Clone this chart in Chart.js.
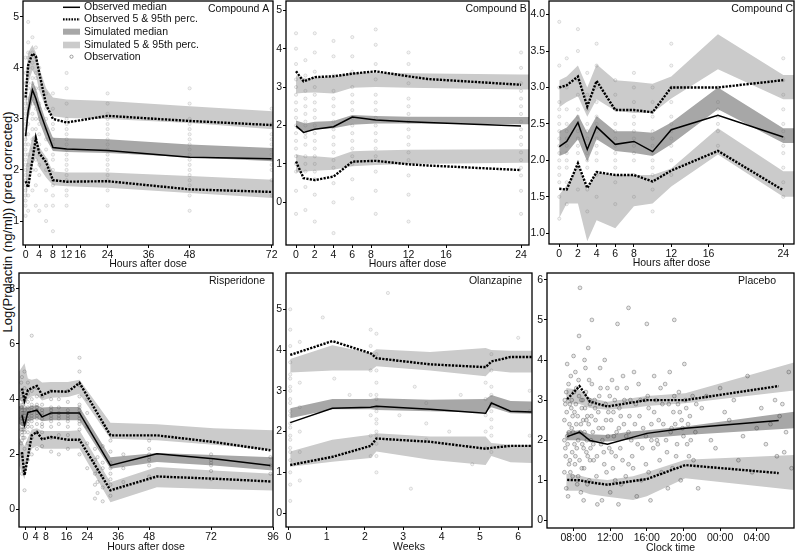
<!DOCTYPE html>
<html>
<head>
<meta charset="utf-8">
<script src="https://cdn.jsdelivr.net/npm/chart.js@4.4.0/dist/chart.umd.min.js"></script>
<style>
html, body { margin: 0; padding: 0; width: 795px; height: 552px; overflow: hidden; background: #fff; }
canvas { position: absolute; }
#ytitle {
  position: absolute; left: 7px; top: 222px;
  transform: translate(-50%, -50%) rotate(-90deg);
  font: 13px "Liberation Sans", Arial, sans-serif; white-space: nowrap; color: #111;
}
</style>
</head>
<body>
<div id="ytitle">Log(Prolactin (ng/ml)) (pred corrected)</div>
<script>
// ---- Compound A (hours) ----
const A_t   = [0, 0.75, 2, 3, 4, 6, 8, 12, 24, 48, 72];
const A_med = [2.66, 3.15, 3.57, 3.4, 3.18, 2.8, 2.44, 2.41, 2.38, 2.25, 2.22];
const A_hi  = [3.42, 4.05, 4.28, 4.23, 3.9, 3.28, 3.0, 2.93, 3.06, 2.96, 2.88];
const A_lo  = [1.78, 1.66, 2.2, 2.62, 2.33, 2.15, 1.8, 1.77, 1.78, 1.62, 1.57];
const A_st   = [0, 0.75, 2, 3, 4, 6, 8, 12, 24, 48, 72.4];
const A_upHi = [3.75, 4.3, 4.45, 4.3, 4.0, 3.6, 3.42, 3.38, 3.35, 3.25, 3.15];
const A_upLo = [3.0, 3.7, 3.95, 3.85, 3.55, 3.2, 3.05, 3.02, 3.0, 2.92, 2.8];
const A_mdHi = [2.9, 3.4, 3.75, 3.6, 3.35, 2.95, 2.63, 2.62, 2.6, 2.5, 2.43];
const A_mdLo = [2.45, 3.0, 3.35, 3.2, 2.95, 2.6, 2.37, 2.35, 2.33, 2.25, 2.17];
const A_dnHi = [2.0, 2.3, 2.65, 2.7, 2.45, 2.25, 1.97, 1.95, 1.95, 1.88, 1.81];
const A_dnLo = [1.4, 1.75, 2.1, 2.25, 2.05, 1.85, 1.7, 1.68, 1.65, 1.55, 1.45];
const A_obs = [
  [0, [1.1, 1.3, 1.4, 1.5, 1.6, 1.7, 1.8, 1.9, 2.0, 2.1, 2.2, 2.3, 2.4, 2.5, 2.6, 2.7, 2.8, 2.9, 3.0, 3.1, 3.2, 3.3, 3.4, 3.5, 3.7, 3.9, 4.2]],
  [0.75, [1.2, 1.5, 1.7, 1.8, 2.1, 2.3, 2.5, 2.7, 2.9, 3.1, 3.3, 3.4, 3.6, 3.7, 3.9, 4.0, 4.2, 4.3, 4.5, 4.9]],
  [2, [1.6, 2.0, 2.2, 2.4, 2.6, 2.8, 3.0, 3.1, 3.3, 3.4, 3.5, 3.7, 3.8, 4.0, 4.1, 4.3, 4.6]],
  [3, [1.3, 1.7, 2.0, 2.2, 2.4, 2.6, 2.8, 3.0, 3.2, 3.3, 3.5, 3.6, 3.8, 3.9, 4.2, 4.4]],
  [4, [1.2, 1.9, 2.1, 2.3, 2.5, 2.7, 2.9, 3.0, 3.2, 3.3, 3.6, 4.0]],
  [6, [1.0, 1.3, 1.6, 2.0, 2.2, 2.4, 2.6, 2.8, 3.0, 3.2, 3.5]],
  [8, [0.8, 1.3, 1.5, 1.7, 1.8, 2.0, 2.2, 2.3, 2.5, 2.6, 2.8, 2.9, 3.2, 3.5]],
  [12, [1.3, 1.5, 1.6, 1.8, 1.9, 2.0, 2.1, 2.2, 2.3, 2.4, 2.5, 2.6, 2.7, 2.8, 2.9, 3.0, 3.3, 3.6, 3.9]],
  [24, [1.3, 1.6, 1.8, 1.9, 2.0, 2.1, 2.2, 2.3, 2.4, 2.5, 2.6, 2.7, 2.8, 2.9, 3.0, 3.1, 3.3, 3.5]],
  [48, [1.2, 1.5, 1.7, 1.8, 1.9, 2.0, 2.1, 2.2, 2.3, 2.4, 2.5, 2.6, 2.7, 2.8, 2.9, 3.0, 3.3, 3.6]],
  [72, [1.5, 1.8, 2.0, 2.1, 2.2, 2.3, 2.4, 2.5, 2.6, 2.7, 2.9, 3.2]]
];

// ---- Compound B (hours) ----
const B_t   = [0, 0.8, 2, 4, 6, 8.5, 12, 14, 24];
const B_med = [1.99, 1.82, 1.9, 1.97, 2.22, 2.14, 2.1, 2.08, 1.99];
const B_hi  = [3.41, 3.15, 3.26, 3.28, 3.35, 3.41, 3.28, 3.21, 3.06];
const B_lo  = [1.06, 0.63, 0.58, 0.67, 1.06, 1.08, 0.99, 0.96, 0.84];
const B_st   = [0, 1, 2, 4, 6, 8.5, 12, 24, 24.9];
const B_upHi = [3.3, 3.22, 3.25, 3.26, 3.37, 3.38, 3.36, 3.33, 3.33];
const B_upLo = [2.83, 2.85, 2.86, 2.83, 2.98, 3.0, 2.98, 2.94, 2.94];
const B_mdHi = [2.13, 2.05, 2.1, 2.12, 2.27, 2.25, 2.23, 2.22, 2.22];
const B_mdLo = [1.92, 1.85, 1.9, 1.93, 2.02, 2.05, 2.05, 2.03, 2.03];
const B_dnHi = [1.25, 1.2, 1.2, 1.16, 1.33, 1.35, 1.37, 1.38, 1.38];
const B_dnLo = [0.78, 0.8, 0.82, 0.85, 0.94, 0.97, 1.0, 1.03, 1.03];
const B_obs = [
  [0, [-0.3, 0.3, 0.8, 1.0, 1.2, 1.4, 1.6, 1.8, 2.0, 2.2, 2.4, 2.6, 2.8, 3.0, 3.2, 3.6, 4.0, 4.4]],
  [1, [-0.2, 0.4, 0.8, 1.0, 1.2, 1.5, 1.7, 1.8, 2.0, 2.1, 2.3, 2.5, 2.7, 2.9, 3.3, 3.7]],
  [2, [-0.5, 0.2, 0.6, 0.8, 1.0, 1.2, 1.4, 1.6, 1.8, 2.0, 2.2, 2.4, 2.6, 2.8, 3.0, 3.4, 3.9, 4.4]],
  [4, [-0.8, 0.0, 0.5, 0.9, 1.1, 1.3, 1.5, 1.7, 1.9, 2.1, 2.3, 2.5, 2.7, 2.9, 3.3, 3.8, 4.2]],
  [6, [0.1, 0.6, 1.0, 1.2, 1.4, 1.6, 1.8, 2.0, 2.2, 2.4, 2.6, 2.8, 3.0, 3.4, 3.8, 4.3]],
  [8.5, [-0.3, 0.3, 0.8, 1.2, 1.4, 1.6, 1.8, 2.0, 2.2, 2.4, 2.6, 2.8, 3.2, 3.6, 4.1, 4.5]],
  [12, [-0.5, 0.2, 0.7, 1.1, 1.3, 1.5, 1.7, 1.9, 2.1, 2.3, 2.5, 2.7, 3.1, 3.6, 3.9]],
  [24, [-0.3, 0.3, 0.7, 0.9, 1.1, 1.3, 1.5, 1.7, 1.9, 2.1, 2.3, 2.5, 2.7, 2.9, 3.1, 3.5, 3.9]]
];

// ---- Compound C (hours) ----
const C_t   = [0, 0.8, 2, 3, 4, 6, 8, 10, 12, 17, 24];
const C_med = [2.19, 2.26, 2.52, 2.15, 2.46, 2.22, 2.26, 2.12, 2.42, 2.62, 2.32];
const C_hi  = [3.0, 3.03, 3.15, 2.74, 3.09, 2.69, 2.69, 2.66, 3.0, 3.0, 3.1];
const C_lo  = [1.61, 1.6, 1.96, 1.62, 1.84, 1.8, 1.8, 1.71, 1.86, 2.13, 1.59];
const C_st   = [0, 0.8, 2, 3, 4, 6, 8, 10, 12, 17, 24, 25.2];
const C_upHi = [3.1, 3.15, 3.3, 3.0, 3.32, 3.1, 3.08, 3.05, 3.15, 3.73, 3.17, 3.17];
const C_upLo = [2.73, 2.8, 2.88, 2.6, 2.84, 2.68, 2.65, 2.65, 2.85, 3.25, 2.84, 2.84];
const C_mdHi = [2.4, 2.45, 2.63, 2.38, 2.61, 2.4, 2.4, 2.38, 2.52, 3.0, 2.44, 2.44];
const C_mdLo = [2.06, 2.1, 2.29, 1.98, 2.29, 2.13, 2.1, 2.06, 2.22, 2.7, 2.24, 2.24];
const C_dnHi = [1.53, 1.66, 1.92, 1.6, 1.83, 1.8, 1.8, 1.8, 1.89, 2.44, 1.85, 1.85];
const C_dnLo = [1.21, 1.41, 1.41, 0.89, 1.18, 1.07, 1.37, 1.41, 1.64, 2.08, 1.5, 1.5];
const C_obs = [
  [0, [1.2, 1.5, 1.7, 1.8, 1.9, 2.0, 2.1, 2.2, 2.3, 2.4, 2.5, 2.6, 2.7, 2.8, 3.0, 3.3, 3.9]],
  [0.8, [1.4, 1.7, 1.9, 2.0, 2.1, 2.2, 2.3, 2.4, 2.5, 2.7, 3.0, 3.4]],
  [2, [1.6, 1.9, 2.1, 2.2, 2.3, 2.4, 2.5, 2.6, 2.7, 2.9, 3.1, 3.5, 3.8]],
  [3, [1.3, 1.6, 1.9, 2.0, 2.1, 2.2, 2.3, 2.4, 2.5, 2.7, 2.9, 3.2]],
  [4, [1.5, 1.8, 2.0, 2.1, 2.2, 2.3, 2.4, 2.5, 2.6, 2.8, 3.0, 3.3, 3.6]],
  [6, [1.4, 1.7, 1.9, 2.0, 2.1, 2.2, 2.3, 2.4, 2.5, 2.7, 2.9, 3.1]],
  [8, [1.5, 1.8, 2.0, 2.1, 2.2, 2.3, 2.4, 2.5, 2.6, 2.8, 3.0, 3.2]],
  [10, [1.3, 1.6, 1.8, 1.9, 2.0, 2.1, 2.2, 2.3, 2.4, 2.6, 2.8, 3.0]],
  [12, [1.8, 2.0, 2.2, 2.3, 2.4, 2.5, 2.6, 2.8, 3.0, 3.3, 3.6]],
  [17, [2.2, 2.4, 2.5, 2.6, 2.7, 2.8, 3.0]],
  [24, [1.5, 1.7, 1.9, 2.1, 2.2, 2.3, 2.4, 2.5, 2.7, 2.9, 3.1, 3.4]]
];

// ---- Risperidone (hours) ----
const R_t   = [-1.3, -0.3, 1, 2.5, 4.5, 6.5, 10, 16.5, 21, 33, 51, 73, 95];
const R_med = [3.42, 3.05, 3.52, 3.55, 3.6, 3.36, 3.5, 3.5, 3.5, 1.6, 2.02, 1.84, 1.6];
const R_hi  = [4.39, 3.96, 4.33, 4.4, 4.48, 4.15, 4.29, 4.27, 4.59, 2.69, 2.69, 2.45, 2.15];
const R_lo  = [2.08, 1.24, 1.9, 2.69, 2.81, 2.55, 2.63, 2.53, 2.53, 0.7, 1.2, 1.12, 1.02];
const R_st   = [-2.4, -0.3, 1, 2.5, 4.5, 6.5, 10, 16.5, 21, 33, 51, 73, 96];
const R_upHi = [5.0, 5.3, 4.75, 4.7, 4.75, 4.6, 4.62, 4.62, 4.7, 3.15, 3.09, 2.95, 2.87];
const R_upLo = [4.0, 3.8, 4.0, 4.1, 4.15, 3.95, 4.05, 4.08, 4.2, 2.57, 2.51, 2.35, 2.15];
const R_mdHi = [3.75, 3.7, 3.72, 3.75, 3.78, 3.7, 3.72, 3.72, 3.72, 1.9, 2.05, 1.98, 1.9];
const R_mdLo = [3.1, 3.0, 3.2, 3.25, 3.3, 3.2, 3.24, 3.24, 3.24, 1.48, 1.72, 1.6, 1.42];
const R_dnHi = [2.6, 2.3, 2.6, 2.9, 2.95, 2.85, 2.85, 2.85, 2.87, 0.99, 1.54, 1.42, 1.3];
const R_dnLo = [1.6, 1.1, 1.8, 2.2, 2.3, 2.2, 2.2, 2.2, 2.21, 0.27, 0.81, 0.75, 0.69];
const R_obs = [
  [-1.6, [2.4, 2.9, 3.3, 3.7, 4.1, 4.6]],
  [-1.3, [1.3, 2.0, 2.5, 2.7, 2.8, 2.9, 3.0, 3.1, 3.2, 3.3, 3.4, 3.5, 3.6, 3.7, 3.8, 4.0, 4.3, 4.8]],
  [-0.8, [2.6, 2.9, 3.1, 3.3, 3.5, 3.8, 4.2]],
  [-0.3, [0.7, 1.5, 2.2, 2.6, 2.8, 2.9, 3.0, 3.1, 3.2, 3.3, 3.4, 3.5, 3.6, 3.7, 4.0, 4.4, 5.0]],
  [1, [1.8, 2.4, 2.8, 3.0, 3.1, 3.2, 3.3, 3.4, 3.5, 3.6, 3.7, 3.9, 4.2, 4.6]],
  [2.5, [2.0, 2.6, 3.0, 3.2, 3.3, 3.4, 3.5, 3.6, 3.7, 3.8, 4.0, 4.3, 6.3]],
  [4.5, [2.2, 2.8, 3.1, 3.3, 3.4, 3.5, 3.6, 3.7, 3.8, 4.1, 4.4]],
  [6.5, [2.3, 2.8, 3.0, 3.1, 3.3, 3.4, 3.5, 3.6, 3.8, 4.1]],
  [10, [2.1, 2.6, 3.0, 3.2, 3.3, 3.4, 3.5, 3.6, 3.7, 4.0, 4.3]],
  [13, [2.0, 2.7, 3.1, 3.3, 3.4, 3.5, 3.7, 4.0]],
  [16.5, [2.2, 2.7, 3.0, 3.2, 3.3, 3.4, 3.5, 3.6, 3.9, 4.3]],
  [21, [2.0, 2.5, 2.9, 3.1, 3.2, 3.3, 3.4, 3.5, 3.6, 3.7, 3.8, 4.1, 4.5, 5.0, 5.5]],
  [24, [1.5, 2.4, 3.0, 3.5, 4.0]],
  [27, [0.4, 0.9, 1.3, 1.8, 2.2]],
  [28, [0.6, 1.0, 1.4, 1.9]],
  [30, [0.3, 0.8, 1.2, 1.5, 1.7, 2.3]],
  [33, [0.5, 0.9, 1.1, 1.3, 1.5, 1.7, 2.1, 2.5]],
  [38, [1.0, 1.5, 2.0]],
  [48, [1.2, 1.6, 1.8, 1.9, 2.0, 2.2, 2.5]],
  [72, [1.1, 1.4, 1.6, 1.7, 1.8, 2.0]],
  [95, [1.3, 1.6, 1.9]]
];

// ---- Olanzapine (weeks) ----
const O_t   = [0.05, 1.15, 2.15, 2.3, 3.7, 5.15, 5.3, 5.8, 6.35];
const O_med = [2.22, 2.57, 2.6, 2.62, 2.55, 2.45, 2.7, 2.5, 2.48];
const O_hi  = [3.88, 4.22, 3.92, 3.8, 3.65, 3.58, 3.72, 3.83, 3.83];
const O_lo  = [1.18, 1.38, 1.65, 1.83, 1.75, 1.58, 1.6, 1.65, 1.65];
const O_st   = [0.05, 1.15, 2.15, 2.3, 3.7, 5.15, 5.3, 5.8, 6.36];
const O_upHi = [3.78, 4.12, 3.92, 4.02, 3.95, 4.05, 4.0, 3.98, 3.98];
const O_upLo = [3.45, 3.5, 3.5, 3.6, 3.5, 3.36, 3.5, 3.45, 3.45];
const O_mdHi = [2.57, 2.8, 2.8, 2.82, 2.78, 2.8, 2.9, 2.75, 2.74];
const O_mdLo = [2.33, 2.55, 2.55, 2.53, 2.5, 2.47, 2.6, 2.45, 2.44];
const O_dnHi = [1.51, 1.8, 1.92, 1.96, 1.88, 1.88, 1.72, 1.68, 1.67];
const O_dnLo = [1.14, 1.26, 1.35, 1.51, 1.31, 1.18, 1.4, 1.25, 1.23];
const O_obs = [
  [0.05, [0.3, 0.7, 1.0, 1.3, 1.5, 1.6, 1.8, 1.9, 2.1, 2.2, 2.4, 2.5, 2.7, 2.8, 3.0, 3.1, 3.3, 3.4, 3.7, 4.1, 4.5, 5.0]],
  [0.3, [0.8, 1.5, 2.0, 2.6, 3.2, 4.2]],
  [1.2, [3.3]], [0.9, [4.8]], [1.6, [2.9]],
  [2.15, [1.4, 1.9, 2.4, 2.9, 3.5, 4.1, 4.5]],
  [2.3, [1.0, 1.4, 1.7, 1.9, 2.0, 2.2, 2.3, 2.5, 2.6, 2.8, 2.9, 3.2, 3.5, 3.9, 4.4]],
  [2.6, [5.4]], [3.2, [0.6]], [2.9, [2.4]], [3.3, [3.1]],
  [3.6, [1.8, 2.2, 2.7]],
  [4.2, [2.0]], [4.8, [1.2]], [4.5, [2.9]],
  [5.15, [1.6, 2.0, 2.4, 2.8, 3.2, 3.6]],
  [5.3, [1.5, 1.9, 2.1, 2.3, 2.5, 2.7, 2.9, 3.1, 3.5, 3.9]],
  [6.0, [4.3]],
  [6.3, [1.9, 2.5, 3.0]]
];

// ---- Placebo (clock hours, 24+ = next day) ----
const P_t   = [7.3, 8.65, 9.8, 11.7, 16, 20.2, 30.4];
const P_med = [2.09, 2.2, 1.99, 1.9, 2.17, 2.3, 2.49];
const P_hi  = [3.02, 3.35, 2.96, 2.84, 3.0, 3.0, 3.35];
const P_lo  = [1.01, 1.0, 0.95, 0.89, 1.03, 1.38, 1.18];
const P_st   = [7.2, 8.65, 9.8, 11.7, 14.5, 16, 20.2, 32.1];
const P_upHi = [3.3, 3.25, 3.05, 2.96, 3.05, 3.1, 3.17, 3.94];
const P_upLo = [2.92, 2.9, 2.8, 2.76, 2.8, 2.85, 2.92, 3.24];
const P_mdHi = [2.21, 2.25, 2.15, 2.13, 2.22, 2.25, 2.34, 2.71];
const P_mdLo = [2.0, 2.0, 1.97, 1.97, 2.02, 2.05, 2.13, 2.3];
const P_dnHi = [1.16, 1.12, 1.05, 1.01, 1.1, 1.2, 1.51, 1.63];
const P_dnLo = [0.74, 0.74, 0.65, 0.59, 0.51, 0.6, 1.05, 0.76];
const P_obs = [
  [7.0,2.5],[7.1,1.8],[7.2,3.2],[7.3,2.1],[7.4,0.6],[7.5,1.4],[7.6,2.9],[7.7,3.6],[7.8,2.3],[7.9,1.1],
  [8.0,4.1],[8.1,2.7],[8.2,1.6],[8.3,3.3],[8.4,0.9],[8.5,2.0],[8.6,4.6],[8.7,5.8],[8.8,2.4],[8.9,1.3],
  [9.0,3.0],[9.1,0.5],[9.2,2.2],[9.3,3.8],[9.4,1.7],[9.5,2.6],[9.6,4.3],[9.7,1.0],[9.8,2.9],[9.9,2.0],
  [10.0,3.4],[10.2,1.5],[10.4,2.5],[10.6,0.4],[10.8,3.1],[11.0,1.9],[11.2,2.3],[11.4,4.0],[11.6,1.2],[11.8,2.7],
  [12.0,0.7],[12.2,3.5],[12.4,2.1],[12.6,1.6],[12.8,4.9],[13.0,2.8],[13.2,0.9],[13.5,2.4],[13.8,3.3],[14.0,1.4],
  [14.3,2.0],[14.6,3.7],[14.9,0.6],[15.2,2.6],[15.5,1.8],[15.8,3.0],[16.0,4.9],[16.2,1.2],[16.5,2.4],[16.8,3.6],
  [17.1,2.0],[17.4,1.5],[17.7,2.9],[18.0,3.4],[18.3,0.8],[18.6,2.2],[18.9,2.7],[19.2,1.6],[19.5,3.2],[19.8,2.5],
  [20.1,3.9],[20.4,1.9],[20.7,2.6],[21.0,3.1],[21.3,2.2],[21.6,0.8],[22.0,2.8],[23.0,2.0],[24.0,3.3],[25.0,2.5],
  [26.0,1.5],[27.0,3.6],[28.0,2.3],[29.0,1.9],[30.0,3.0],[30.5,2.6],[31.0,1.7],[31.5,3.7],[10.0,5.0],[14.0,5.3],[19.0,5.0],
  [7.0,1.2],[7.1,2.9],[7.2,0.8],[7.3,3.9],[7.5,2.2],[7.6,1.5],[7.8,3.0],[7.9,2.6],[8.1,1.9],[8.2,3.7],
  [8.3,2.4],[8.5,1.1],[8.6,3.1],[8.8,0.7],[8.9,2.8],[9.1,1.8],[9.2,4.0],[9.4,2.5],[9.5,0.9],[9.7,3.5],
  [9.8,1.5],[10.1,2.2],[10.3,3.0],[10.5,1.1],[10.7,2.7],[10.9,3.8],[11.1,0.5],[11.3,1.7],[11.5,2.9],[11.7,3.3],
  [11.9,1.8],[12.1,2.5],[12.3,1.3],[12.5,3.0],[12.7,2.2],[12.9,0.4],[13.1,1.8],[13.4,3.6],[13.7,1.1],[14.1,2.6],
  [14.4,1.6],[14.8,2.9],[15.1,3.4],[15.4,1.0],[15.9,2.1],[16.1,3.1],[16.4,0.5],[16.7,1.8],[17.0,3.0],[17.3,2.5],
  [17.6,1.2],[18.1,2.0],[18.5,3.7],[18.8,1.3],[19.1,2.4],[19.4,2.9],[19.7,1.0],[20.0,2.1],[20.3,2.8],[20.6,1.6],
  [7.0,2.0],[7.05,3.0],[7.15,1.6],[7.25,2.7],[7.35,1.9],[7.45,3.4],[7.55,2.4],[7.65,1.2],[7.75,2.8],[7.85,1.7],
  [7.95,2.2],[8.05,3.2],[8.15,1.4],[8.25,2.9],[8.35,1.8],[8.45,2.6],[8.55,3.5],[8.65,1.5],[8.75,2.2],[8.85,3.0],
  [8.95,1.9],[9.05,2.5],[9.15,1.3],[9.25,2.8],[9.35,3.2],[9.45,2.0],[9.55,1.6],[9.65,2.4],[9.75,3.0],[9.85,1.8],
  [9.95,2.6],[10.15,1.9],[10.35,2.8],[10.55,1.6],[10.75,2.3],[10.95,3.3],[11.15,2.0],[11.35,1.4],[11.55,2.5],[11.75,2.1],
  [11.95,3.1],[12.15,1.7],[12.35,2.7],[12.55,1.0],[12.75,3.3],[12.95,2.3],[13.15,2.6],[13.35,1.5],[13.55,3.0],[13.75,2.1],
  [14.0,2.2],[14.2,3.0],[14.5,1.3],[14.7,2.4],[15.0,1.9],[15.3,3.0],[15.6,2.3],[15.9,1.4],[16.2,2.8],[16.5,2.0],
  [16.8,2.7],[17.2,1.9],[17.5,3.3],[17.8,2.4],[18.2,1.7],[18.4,2.9],[18.7,2.3],[19.0,3.1],[19.3,1.9],[19.6,2.7],
  [19.9,2.3],[20.2,3.0],[20.5,2.4],[20.8,2.0],[21.1,1.5],[21.4,2.9],[22.5,3.1],[23.5,1.8],[24.5,2.7],[25.5,3.0],
  [26.5,2.1],[27.5,1.2],[28.5,2.8],[29.5,2.4],[30.2,1.6],[30.8,2.9],[31.2,2.2],[31.8,1.3]
];

// tick labels
const A_xTicks = [0, 4, 8, 12, 16, 24, 36, 48, 72];
const B_xTicks = [0, 2, 4, 6, 8, 12, 16, 24];
const C_xTicks = [0, 2, 4, 6, 8, 12, 16, 24];
const R_xTicks = [0, 4, 8, 16, 24, 36, 48, 72, 96];
const O_xTicks = [0, 1, 2, 3, 4, 5, 6];
const P_xTicks = [8, 12, 16, 20, 24, 28];
const P_xLabels = ["08:00", "12:00", "16:00", "20:00", "00:00", "04:00"];
const A_yTicks = [1, 2, 3, 4, 5];
const B_yTicks = [0, 1, 2, 3, 4, 5];
const C_yTicks = [1.0, 1.5, 2.0, 2.5, 3.0, 3.5, 4.0];
const R_yTicks = [0, 2, 4, 6, 8];
const O_yTicks = [0, 1, 2, 3, 4, 5];
const P_yTicks = [0, 1, 2, 3, 4, 5, 6];
const legendLabels = ["Observed median", "Observed 5 & 95th perc.", "Simulated median", "Simulated 5 & 95th perc.", "Observation"];

const FONT = '"Liberation Sans", Arial, sans-serif';
Chart.defaults.font.family = FONT;
Chart.defaults.color = '#111';

const LIGHT = '#cbcbcb';
const DARK = '#a7a7a7';
const YW = 24, PT = 10, PR = 12, XH = 30;

const xy = (xs, ys) => xs.map((x, i) => ({ x: x, y: ys[i] }));
const flatObs = (cols) => {
  const out = [];
  cols.forEach(c => {
    if (Array.isArray(c[1])) c[1].forEach(v => out.push({ x: c[0], y: v }));
    else out.push({ x: c[0], y: c[1] });
  });
  return out;
};

// frame + panel title + legend
const panelDeco = {
  id: 'panelDeco',
  afterDraw(chart, args, o) {
    const { ctx, chartArea: a } = chart;
    ctx.save();
    ctx.strokeStyle = '#000';
    ctx.lineWidth = 1.3;
    ctx.strokeRect(a.left, a.top, a.right - a.left, a.bottom - a.top);
    ctx.fillStyle = '#111';
    ctx.font = '10.5px ' + FONT;
    ctx.textAlign = 'right';
    ctx.textBaseline = 'middle';
    ctx.fillText(o.title, a.right - o.titleDx, a.top + 8.5);
    if (o.legend) {
      const x0 = a.left + 40, x1 = a.left + 57, tx = a.left + 61;
      const ys = [6.3, 18.3, 30.7, 44, 55.7].map(v => a.top + v);
      ctx.textAlign = 'left';
      ctx.strokeStyle = '#000';
      ctx.lineWidth = 1.5;
      ctx.beginPath(); ctx.moveTo(x0, ys[0]); ctx.lineTo(x1, ys[0]); ctx.stroke();
      ctx.lineWidth = 2.2;
      ctx.setLineDash([1.6, 1.2]);
      ctx.beginPath(); ctx.moveTo(x0, ys[1]); ctx.lineTo(x1, ys[1]); ctx.stroke();
      ctx.setLineDash([]);
      ctx.fillStyle = DARK; ctx.fillRect(x0, ys[2] - 3, x1 - x0, 6);
      ctx.fillStyle = LIGHT; ctx.fillRect(x0, ys[3] - 3.3, x1 - x0, 6.6);
      ctx.strokeStyle = 'rgba(90,90,90,0.7)'; ctx.lineWidth = 0.8;
      ctx.beginPath(); ctx.arc((x0 + x1) / 2, ys[4], 1.6, 0, Math.PI * 2); ctx.stroke();
      ctx.fillStyle = '#111';
      legendLabels.forEach((t, i) => ctx.fillText(t, tx, ys[i]));
    }
    ctx.restore();
  }
};

const panels = [
  { title: "Compound A", titleDx: 3.7, box: [23, 1, 273, 245], xr: [-0.76, 72.4], yr: [0.53, 5.31],
    xTicks: A_xTicks, yTicks: A_yTicks, xTitle: "Hours after dose", tPad: 4.4, legend: true,
    t: A_t, med: A_med, hi: A_hi, lo: A_lo, st: A_st,
    bands: [[A_upLo, A_upHi, LIGHT], [A_mdLo, A_mdHi, DARK], [A_dnLo, A_dnHi, LIGHT]], obs: A_obs },
  { title: "Compound B", titleDx: 2.3, box: [286, 1, 529, 245], xr: [-1.07, 24.85], yr: [-1.11, 5.24],
    xTicks: B_xTicks, yTicks: B_yTicks, xTitle: "Hours after dose", tPad: 4.4,
    t: B_t, med: B_med, hi: B_hi, lo: B_lo, st: B_st,
    bands: [[B_upLo, B_upHi, LIGHT], [B_mdLo, B_mdHi, DARK], [B_dnLo, B_dnHi, LIGHT]], obs: B_obs },
  { title: "Compound C", titleDx: 1, box: [549, 1, 794, 244], xr: [-1.1, 25.15], yr: [0.853, 4.186],
    xTicks: C_xTicks, yTicks: C_yTicks, yDec: 1, xTitle: "Hours after dose", tPad: 4.4,
    t: C_t, med: C_med, hi: C_hi, lo: C_lo, st: C_st,
    bands: [[C_upLo, C_upHi, LIGHT], [C_mdLo, C_mdHi, DARK], [C_dnLo, C_dnHi, LIGHT]], obs: C_obs },
  { title: "Risperidone", titleDx: 8, box: [19, 273, 273, 527], xr: [-2.44, 96], yr: [-0.63, 8.57],
    xTicks: R_xTicks, yTicks: R_yTicks, xTitle: "Hours after dose", tPad: 3.4,
    t: R_t, med: R_med, hi: R_hi, lo: R_lo, st: R_st,
    bands: [[R_upLo, R_upHi, LIGHT], [R_mdLo, R_mdHi, DARK], [R_dnLo, R_dnHi, LIGHT]], obs: R_obs, dense: true },
  { title: "Olanzapine", titleDx: 10, box: [286, 273, 532, 527], xr: [-0.06, 6.36], yr: [-0.34, 5.89],
    xTicks: O_xTicks, yTicks: O_yTicks, xTitle: "Weeks", tPad: 3.4,
    t: O_t, med: O_med, hi: O_hi, lo: O_lo, st: O_st,
    bands: [[O_upLo, O_upHi, LIGHT], [O_mdLo, O_mdHi, DARK], [O_dnLo, O_dnHi, LIGHT]], obs: O_obs },
  { title: "Placebo", titleDx: 18, box: [547, 273, 794, 528], xr: [5.1, 32.07], yr: [-0.19, 6.17],
    xTicks: P_xTicks, xLabels: P_xLabels, yTicks: P_yTicks, xTitle: "Clock time", tPad: 3.4,
    t: P_t, med: P_med, hi: P_hi, lo: P_lo, st: P_st,
    bands: [[P_upLo, P_upHi, LIGHT], [P_mdLo, P_mdHi, DARK], [P_dnLo, P_dnHi, LIGHT]], obs: P_obs, dense: true, heavy: true }
];

panels.forEach(p => {
  const [l, t, r, b] = p.box;
  const cv = document.createElement('canvas');
  cv.width = r - l + YW + PR;
  cv.height = b - t + PT + XH;
  cv.style.left = (l - YW) + 'px';
  cv.style.top = (t - PT) + 'px';
  document.body.appendChild(cv);

  const datasets = [];
  p.bands.forEach(bd => {
    datasets.push({ data: xy(p.st, bd[0]), borderWidth: 0, pointRadius: 0, fill: false, order: 3 });
    datasets.push({ data: xy(p.st, bd[1]), borderWidth: 0, pointRadius: 0, fill: '-1', backgroundColor: bd[2], order: 3 });
  });
  datasets.push({
    data: flatObs(p.obs), showLine: false, order: 2,
    pointRadius: p.heavy ? 1.9 : 1.6, pointBorderWidth: 0.8,
    pointBorderColor: p.heavy ? 'rgba(60,60,60,0.45)' : (p.dense ? 'rgba(70,70,70,0.32)' : 'rgba(110,110,110,0.25)'),
    pointBackgroundColor: p.heavy ? 'rgba(120,120,120,0.18)' : 'rgba(150,150,150,0.1)'
  });
  datasets.push({ data: xy(p.t, p.hi), borderColor: '#000', borderWidth: 2.4, borderDash: [2.2, 1.3], pointRadius: 0, fill: false, order: 1 });
  datasets.push({ data: xy(p.t, p.lo), borderColor: '#000', borderWidth: 2.4, borderDash: [2.2, 1.3], pointRadius: 0, fill: false, order: 1 });
  datasets.push({ data: xy(p.t, p.med), borderColor: '#000', borderWidth: 1.5, pointRadius: 0, fill: false, order: 0 });

  const tickFont = { family: FONT, size: 10.5 };
  new Chart(cv, {
    type: 'line',
    data: { datasets: datasets },
    options: {
      responsive: false,
      animation: false,
      events: [],
      layout: { padding: { top: PT, right: PR, left: 0, bottom: 0 } },
      plugins: {
        legend: { display: false },
        tooltip: { enabled: false },
        panelDeco: { title: p.title, titleDx: p.titleDx, legend: !!p.legend }
      },
      scales: {
        x: {
          type: 'linear', min: p.xr[0], max: p.xr[1],
          afterBuildTicks: s => { s.ticks = p.xTicks.map(v => ({ value: v })); },
          afterFit: s => { s.height = XH; },
          ticks: {
            autoSkip: false, maxRotation: 0, padding: 1, font: tickFont, color: '#111',
            callback: v => p.xLabels ? p.xLabels[p.xTicks.indexOf(v)] : String(v)
          },
          grid: { drawOnChartArea: false, drawTicks: true, tickLength: 3, color: '#000' },
          border: { display: false },
          title: { display: true, text: p.xTitle, font: tickFont, color: '#111', padding: { top: 0, bottom: p.tPad } }
        },
        y: {
          type: 'linear', min: p.yr[0], max: p.yr[1],
          afterBuildTicks: s => { s.ticks = p.yTicks.map(v => ({ value: v })); },
          afterFit: s => { s.width = YW; },
          ticks: {
            padding: 1, font: tickFont, color: '#111',
            callback: v => p.yDec ? v.toFixed(p.yDec) : String(v)
          },
          grid: { drawOnChartArea: false, drawTicks: true, tickLength: 3, color: '#000' },
          border: { display: false }
        }
      }
    },
    plugins: [panelDeco]
  });
});
</script>
</body>
</html>
